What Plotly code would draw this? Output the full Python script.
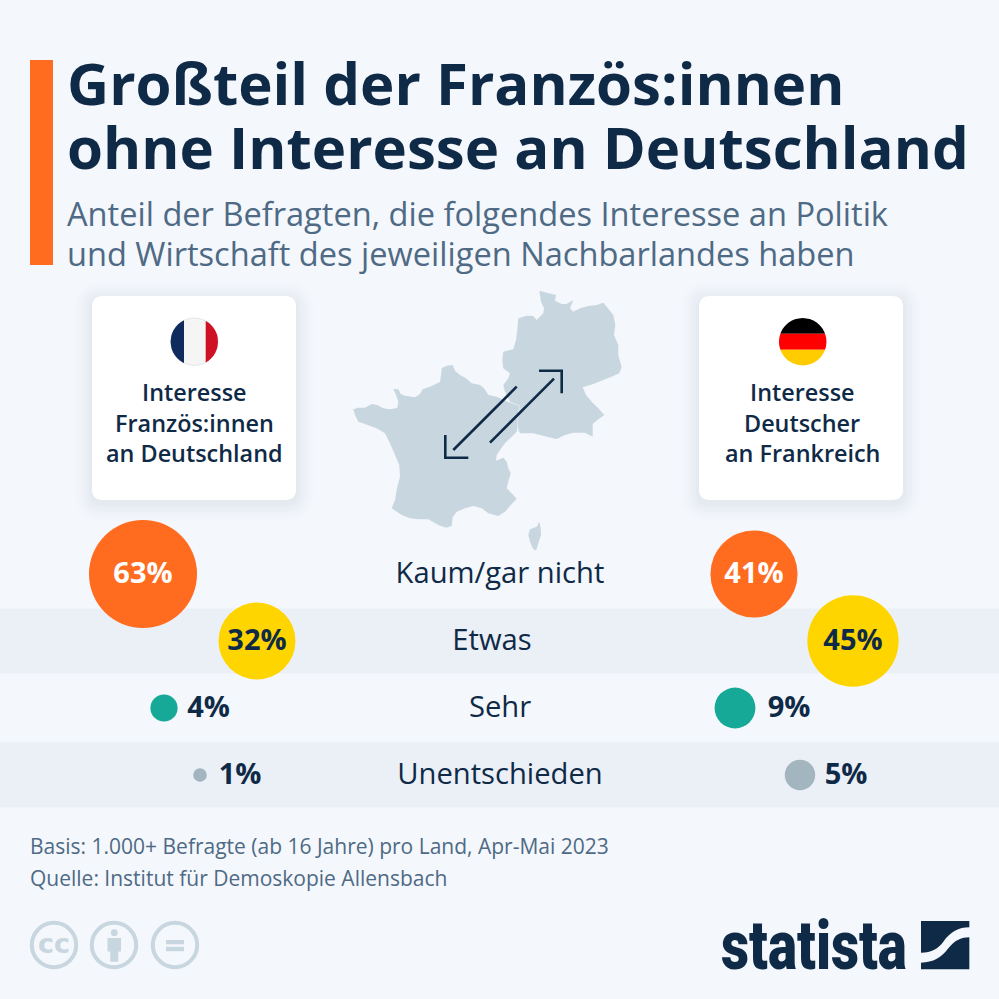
import math
import plotly.graph_objects as go

categories = ["Kaum/gar nicht", "Etwas", "Sehr", "Unentschieden"]
france_values = [63, 32, 4, 1]
germany_values = [41, 45, 9, 5]
colors = ["#FF6B1F", "#FFD500", "#17A998", "#A3B5BF"]

# layout positions (page pixels)
france_x = [143, 257, 164, 200]
germany_x = [754, 853, 735, 800]
france_label_x = [143, 257, 208.5, 240]
germany_label_x = [754, 853, 789, 846]
category_x = [500, 492, 500, 500]
label_colors = ["#FFFFFF", "#0F2A47", "#0F2A47", "#0F2A47"]

BG = "#F4F7FB"
BAND = "#EBF0F7"
DARK = "#0F2A47"
SUB = "#4E6A85"
MAP = "#C8D6DF"
W = 999
FONT = "Open Sans"

shapes = []
ann = []


def rect(x0, y0, x1, y1, color):
    shapes.append(dict(type="rect", xref="x", yref="y", x0=x0, y0=y0, x1=x1, y1=y1,
                       fillcolor=color, line_width=0, layer="below"))


def path(d, fill=None, line=None, width=0):
    s = dict(type="path", xref="x", yref="y", path=d, layer="below")
    if fill:
        s["fillcolor"] = fill
    s["line"] = dict(color=line or "rgba(0,0,0,0)", width=width)
    shapes.append(s)


def rrect(x0, y0, x1, y1, r):
    return (f"M{x0+r},{y0} L{x1-r},{y0} Q{x1},{y0} {x1},{y0+r} L{x1},{y1-r} Q{x1},{y1} {x1-r},{y1} "
            f"L{x0+r},{y1} Q{x0},{y1} {x0},{y1-r} L{x0},{y0+r} Q{x0},{y0} {x0+r},{y0} Z")


def circle(cx, cy, r, fill=None, line=None, width=0):
    shapes.append(dict(type="circle", xref="x", yref="y", x0=cx-r, y0=cy-r, x1=cx+r, y1=cy+r,
                       fillcolor=fill or "rgba(0,0,0,0)",
                       line=dict(color=line or "rgba(0,0,0,0)", width=width), layer="below"))


def poly(points, ox=340, oy=280, k=3):
    return "M" + " L".join(f"{ox+x/k:.1f},{oy+y/k:.1f}" for x, y in points)


def text(x, y, s, size, color=DARK, bold=False, anchor="left", family=FONT, weight=None):
    font = dict(family=family, size=size, color=color)
    if weight:
        font["weight"] = weight
    ann.append(dict(x=x, y=y, xref="x", yref="y", text=f"<b>{s}</b>" if bold else s, showarrow=False,
                    xanchor=anchor, yanchor="middle", align=anchor, font=font))


# header
rect(30, 60, 53, 265, "#FF6B1F")
text(65, 82, "Großteil der Französ:innen", 58.2, bold=True)
text(65, 146, "ohne Interesse an Deutschland", 58.2, bold=True)
text(64.5, 213, "Anteil der Befragten, die folgendes Interesse an Politik", 32.6, SUB)
text(64.5, 253, "und Wirtschaft des jeweiligen Nachbarlandes haben", 32.6, SUB)

# row bands
rect(0, 608.5, W, 673.5, BAND)
rect(0, 742, W, 807.5, BAND)

# map
france = [(40,388),(55,383),(75,383),(95,372),(112,375),(130,385),(150,388),(172,384),(175,365),(168,345),(160,327),
          (175,328),(182,342),(195,347),(225,352),(240,342),(248,328),(270,320),(300,306),(303,285),(305,265),
          (320,257),(338,255),(345,272),(360,285),(378,295),(395,310),(420,315),(432,325),(445,345),(470,350),
          (490,360),(510,368),(540,378),(535,400),(532,430),(530,455),(515,470),(495,490),(480,510),(470,525),
          (468,542),(490,533),(500,545),(505,565),(512,580),(505,605),(500,625),(515,640),(530,657),(515,672),
          (495,695),(475,708),(445,700),(425,685),(400,678),(375,685),(350,695),(338,712),(335,738),(318,743),
          (295,735),(265,718),(235,718),(210,715),(185,705),(155,685),(165,660),(172,620),(180,590),(178,555),
          (165,525),(150,490),(135,460),(110,445),(75,432),(55,425),(45,405)]
germany = [(598,32),(620,38),(648,45),(645,62),(665,72),(680,72),(700,60),(690,85),(700,95),(720,85),(745,78),
           (770,75),(790,68),(800,80),(820,105),(826,135),(822,165),(835,195),(835,225),(845,262),(838,280),
           (820,288),(790,300),(760,312),(728,322),(738,345),(755,365),(775,385),(793,405),(775,418),(758,432),
           (758,470),(735,458),(700,458),(675,465),(650,477),(620,470),(580,460),(540,460),(530,430),(535,400),
           (540,378),(510,365),(495,335),(490,315),(505,295),(510,280),(490,265),(487,240),(490,215),(520,208),
           (528,180),(532,150),(535,115),(560,107),(580,108),(590,120),(610,100),(612,85),(603,65),(600,45)]
corsica = [(598,725),(602,745),(603,765),(595,790),(588,812),(578,805),(570,785),(565,765),(570,748),(590,740)]
path(poly(france) + " Z", MAP)
path(poly(germany) + " Z", MAP)
path(poly(corsica) + " Z", MAP)
path(poly([(510,366),(540,378),(535,400),(532,430),(535,455)]), None, "#DDE6EC", 1)
path(poly([(530,320),(340,510)]), None, DARK, 2.6)
path(poly([(316,465),(316,533),(385,533)]), None, DARK, 2.6)
path(poly([(450,488),(642,296)]), None, DARK, 2.6)
path(poly([(597,272),(665,272),(665,340)]), None, DARK, 2.6)

# cards with soft shadow
for x0 in (92, 699):
    x1 = x0 + 204
    for g, a in ((18, .008), (15, .01), (12, .012), (9, .016), (6, .02), (3, .025)):
        path(rrect(x0-g, 296-g+3, x1+g, 500+g+3, 11+g), f"rgba(90,115,140,{a})")
    path(rrect(x0, 296, x1, 500, 11), "#FFFFFF")

# flags
R = 23.7


def vseg(cx, cy, a, b):
    """Part of the disc between vertical lines x=a and x=b, as a polygon."""
    n = 24
    xs = [a + (b-a)*i/n for i in range(n+1)]
    top = [(x, cy - math.sqrt(max(R**2-(x-cx)**2, 0))) for x in xs]
    bot = [(x, cy + math.sqrt(max(R**2-(x-cx)**2, 0))) for x in reversed(xs)]
    return poly(top+bot, 0, 0, 1) + " Z"


def hseg(cx, cy, a, b):
    n = 24
    ys = [a + (b-a)*i/n for i in range(n+1)]
    right = [(cx + math.sqrt(max(R**2-(y-cy)**2, 0)), y) for y in ys]
    left = [(cx - math.sqrt(max(R**2-(y-cy)**2, 0)), y) for y in reversed(ys)]
    return poly(right+left, 0, 0, 1) + " Z"


fx, gx, fy = 194.3, 802.7, 341.7
circle(fx, fy, R, "#F5F5F5", "#E4E7EA", 1)
path(vseg(fx, fy, fx-R, 184), "#0F2A5C")
path(vseg(fx, fy, 205.7, fx+R), "#CF1126")
path(hseg(gx, fy, fy-R, 333.7), "#000000")
path(hseg(gx, fy, 333.7, 349.7), "#FF0000")
path(hseg(gx, fy, 349.7, fy+R), "#FFCC00")

for i, s in enumerate(["Interesse", "Französ:innen", "an Deutschland"]):
    text(194.5, 392 + i*30.7, s, 23.4, anchor="center", weight=600)
for i, s in enumerate(["Interesse", "Deutscher", "an Frankreich"]):
    text(802, 392 + i*30.7, s, 23.4, anchor="center", weight=600)

# footer
text(28, 845.5, "Basis: 1.000+ Befragte (ab 16 Jahre) pro Land, Apr-Mai 2023", 21, SUB)
text(28, 877.5, "Quelle: Institut für Demoskopie Allensbach", 21, SUB)

# licence icons
for cx in (54, 114, 175):
    circle(cx, 945, 22.2, None, MAP, 4)
text(54, 943, "<b>cc</b>", 27, MAP, anchor="center", family="DejaVu Sans")
circle(114.3, 932.7, 3.4, MAP)
path("M107.5,938 L121,938 L121,951.5 L118.3,951.5 L118.3,961.7 L110.3,961.7 L110.3,951.5 L107.5,951.5 Z", MAP)
rect(166, 940, 184, 944.3, MAP)
rect(166, 946.8, 184, 951.2, MAP)

# logo
text(719, 946, "statista", 68, DARK, family="Roboto", weight=900)
ox, oy = 710, 910
path(f"M{ox+633/3},{oy+33/3} L{ox+778/3},{oy+33/3} L{ox+778/3},{oy+52/3} "
     f"C{ox+745/3},{oy+52/3} {ox+722/3},{oy+65/3} {ox+700/3},{oy+95/3} "
     f"C{ox+685/3},{oy+115/3} {ox+665/3},{oy+128/3} {ox+633/3},{oy+128/3} Z", DARK)
path(f"M{ox+778/3},{oy+82/3} L{ox+778/3},{oy+178/3} L{ox+633/3},{oy+178/3} L{ox+633/3},{oy+158/3} "
     f"C{ox+670/3},{oy+158/3} {ox+695/3},{oy+142/3} {ox+715/3},{oy+115/3} "
     f"C{ox+735/3},{oy+90/3} {ox+755/3},{oy+82/3} {ox+778/3},{oy+82/3} Z", DARK)

fig = go.Figure()
for vals, xs, lxs in ((france_values, france_x, france_label_x), (germany_values, germany_x, germany_label_x)):
    fig.add_trace(go.Scatter(
        x=xs, y=categories, mode="markers", xaxis="x", yaxis="y2", cliponaxis=False, showlegend=False,
        marker=dict(size=vals, sizemode="area", sizeref=0.0108, color=colors, line_width=0, opacity=1)))
    fig.add_trace(go.Scatter(
        x=lxs, y=categories, mode="text", xaxis="x", yaxis="y3", cliponaxis=False, showlegend=False,
        text=[f"<b>{v}%</b>" for v in vals], textposition="middle center",
        textfont=dict(family=FONT, size=29, color=label_colors)))
fig.add_trace(go.Scatter(
    x=category_x, y=categories, mode="text", xaxis="x", yaxis="y3", cliponaxis=False, showlegend=False,
    text=categories, textposition="middle center", textfont=dict(family=FONT, size=29.2, color=DARK)))

cat_axis = dict(type="category", categoryorder="array", categoryarray=categories, range=[3.5, -0.5],
                visible=False, anchor="x", fixedrange=True)
fig.update_layout(
    width=W, height=W, margin=dict(l=0, r=0, t=0, b=0), autosize=False,
    paper_bgcolor=BG, plot_bgcolor="rgba(0,0,0,0)", shapes=shapes, annotations=ann,
    xaxis=dict(range=[0, W], visible=False, domain=[0, 1], fixedrange=True),
    yaxis=dict(range=[W, 0], visible=False, domain=[0, 1], fixedrange=True),
    yaxis2=dict(domain=[1-808.5/W, 1-540.5/W], **cat_axis),
    yaxis3=dict(domain=[1-810.2/W, 1-542.2/W], **cat_axis),
)

# the wordmark is a condensed face: squeeze the real text to the logo's width
post = """
document.body.style.margin='0';
document.body.style.background='%s';
document.querySelectorAll('text.annotation-text').forEach(function(t){
  if(t.textContent==='statista'){
    var b=t.getBBox(), s=186/b.width;
    t.setAttribute('transform','translate('+b.x+',0) scale('+s+',1) translate('+(-b.x)+',0)');
  }
});
""" % BG
fig.write_html("out.html", config=dict(displayModeBar=False), post_script=post)
